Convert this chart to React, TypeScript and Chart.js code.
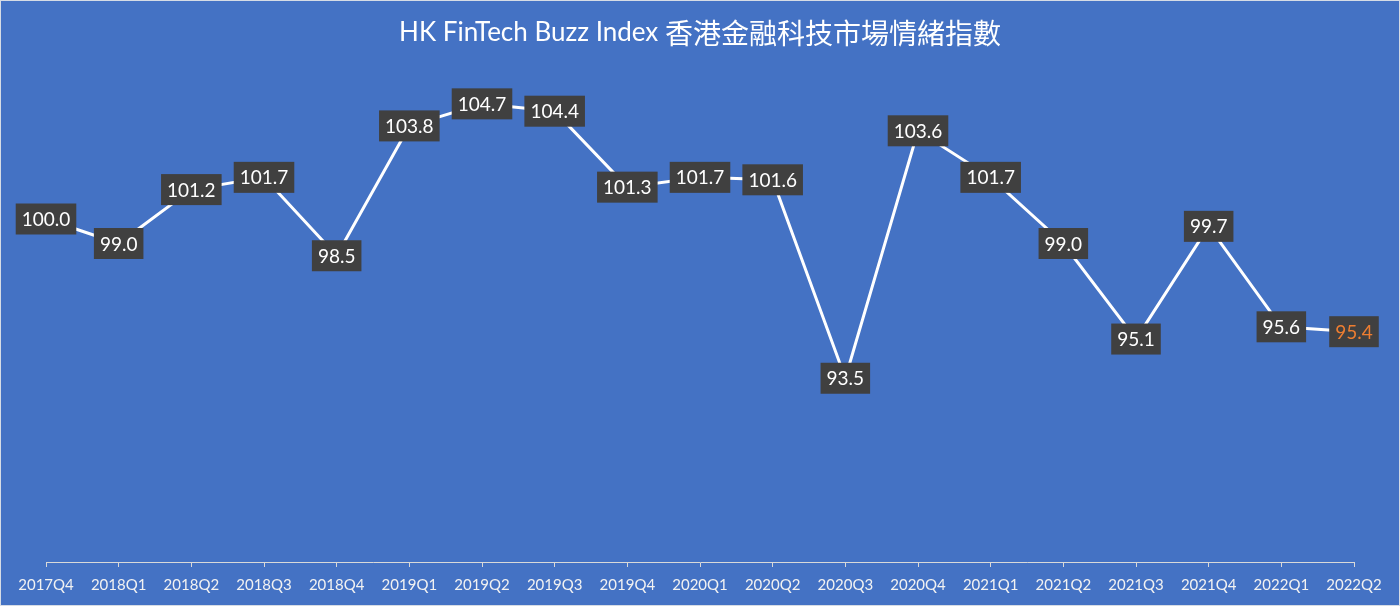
import React, { useEffect, useRef } from 'react';
import { Chart, registerables, Plugin } from 'chart.js';

Chart.register(...registerables);

// quarters shown on the x axis
const quarters = [
  '2017Q4', '2018Q1', '2018Q2', '2018Q3', '2018Q4',
  '2019Q1', '2019Q2', '2019Q3', '2019Q4',
  '2020Q1', '2020Q2', '2020Q3', '2020Q4',
  '2021Q1', '2021Q2', '2021Q3', '2021Q4',
  '2022Q1', '2022Q2',
];

// buzz index per quarter
const buzzIndex = [
  100.0, 99.0, 101.2, 101.7, 98.5,
  103.8, 104.7, 104.4, 101.3,
  101.7, 101.6, 93.5, 103.6,
  101.7, 99.0, 95.1, 99.7,
  95.6, 95.4,
];

const titleLatin = 'HK FinTech Buzz Index';
const titleCjk = '香港金融科技市場情緒指數';

const BG = '#4472C4';
const LATIN_FONT = 'Lato, "Open Sans", sans-serif';
const CJK_FONT = '"Noto Sans CJK TC", "Noto Sans CJK SC", sans-serif';

// draws the title on top without taking any layout space
const titlePlugin: Plugin<'line'> = {
  id: 'freeTitle',
  afterDraw(chart) {
    const ctx = chart.ctx;
    ctx.save();
    ctx.fillStyle = '#FFFFFF';
    ctx.textBaseline = 'middle';
    ctx.textAlign = 'left';
    const latinFont = `26px ${LATIN_FONT}`;
    const cjkFont = `28px ${CJK_FONT}`;
    ctx.font = latinFont;
    const w1 = ctx.measureText(titleLatin + ' ').width;
    ctx.font = cjkFont;
    const w2 = ctx.measureText(titleCjk).width;
    const x0 = chart.width / 2 - (w1 + w2) / 2;
    const y = 32;
    ctx.font = latinFont;
    ctx.fillText(titleLatin + ' ', x0, y);
    ctx.font = cjkFont;
    ctx.fillText(titleCjk, x0 + w1, y);
    ctx.restore();
  },
};

// dark boxes with the value, centred on every point
const valueLabelPlugin: Plugin<'line'> = {
  id: 'valueLabels',
  afterDatasetsDraw(chart) {
    const ctx = chart.ctx;
    const meta = chart.getDatasetMeta(0);
    const values = chart.data.datasets[0].data as number[];
    ctx.save();
    ctx.font = `19px ${LATIN_FONT}`;
    ctx.textAlign = 'center';
    ctx.textBaseline = 'middle';
    meta.data.forEach((pt, i) => {
      const text = values[i].toFixed(1);
      const w = ctx.measureText(text).width + 12;
      const h = 31;
      ctx.fillStyle = '#404040';
      ctx.fillRect(pt.x - w / 2, pt.y - h / 2, w, h);
      ctx.fillStyle = i === values.length - 1 ? '#ED7D31' : '#FFFFFF';
      ctx.fillText(text, pt.x, pt.y + 1);
    });
    ctx.restore();
  },
};

const App: React.FC = () => {
  const canvasRef = useRef<HTMLCanvasElement | null>(null);

  useEffect(() => {
    if (!canvasRef.current) return;

    const chart = new Chart(canvasRef.current, {
      type: 'line',
      data: {
        labels: quarters,
        datasets: [
          {
            data: buzzIndex,
            borderColor: '#FFFFFF',
            borderWidth: 3,
            pointRadius: 0,
            tension: 0,
            fill: false,
          },
        ],
      },
      options: {
        animation: false,
        responsive: true,
        maintainAspectRatio: false,
        layout: {
          padding: { top: 22, left: 45, right: 45, bottom: 2 },
        },
        plugins: {
          legend: { display: false },
          title: { display: false },
          tooltip: { enabled: false },
        },
        scales: {
          x: {
            offset: false,
            grid: {
              display: true,
              drawOnChartArea: false,
              drawTicks: true,
              tickLength: 5,
              color: '#D9D9D9',
            },
            border: { display: true, color: '#D9D9D9', width: 1 },
            ticks: {
              color: '#F2F2F2',
              font: { size: 15, family: LATIN_FONT },
              padding: 9,
              maxRotation: 0,
              autoSkip: false,
            },
          },
          y: {
            display: false,
            min: 86,
            max: 108,
          },
        },
      },
      plugins: [valueLabelPlugin, titlePlugin],
    });

    return () => {
      chart.destroy();
    };
  }, []);

  return (
    <div
      style={{
        position: 'fixed',
        left: 0,
        top: 0,
        width: 1400,
        height: 606,
        background: BG,
        boxSizing: 'border-box',
        border: '1px solid #D6DCE5',
      }}
    >
      <canvas ref={canvasRef}></canvas>
    </div>
  );
};

export default App;
